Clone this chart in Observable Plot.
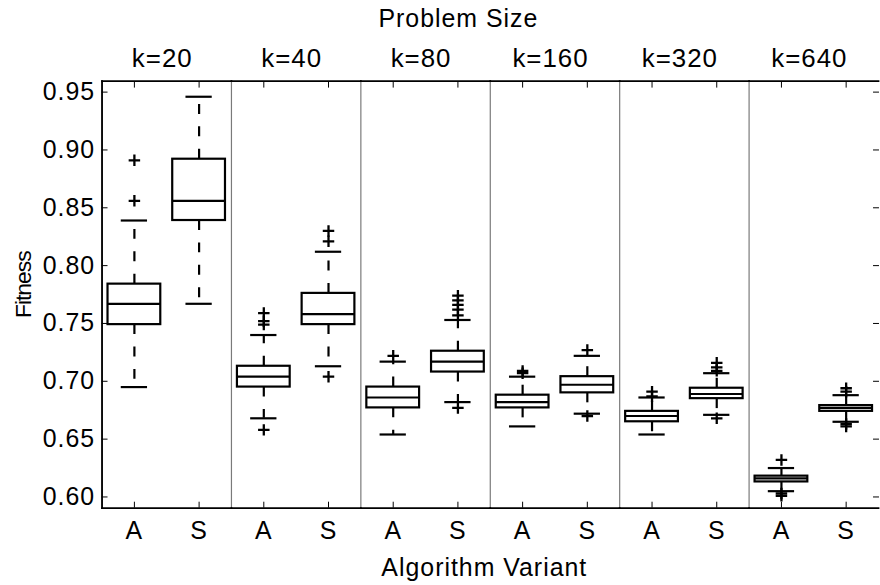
<!DOCTYPE html>
<html><head><meta charset="utf-8">
<script src="https://cdn.jsdelivr.net/npm/d3@7"></script>
<script src="https://cdn.jsdelivr.net/npm/@observablehq/plot@0.6"></script>
<style>
html,body{margin:0;padding:0;background:#fff;overflow:hidden}
#chart{width:880px;height:585px;overflow:hidden}
</style></head><body><div id="chart"></div>
<script>
// Facets (problem size) and variants
const sizes = ["k=20", "k=40", "k=80", "k=160", "k=320", "k=640"];
const variants = ["A", "S"];
const yTicks = [0.60, 0.65, 0.70, 0.75, 0.80, 0.85, 0.90, 0.95];

// Box statistics, order: k20 A, k20 S, k40 A, k40 S, ... k640 S
const whiskerLow  = [0.695, 0.767, 0.668, 0.713, 0.654, 0.682, 0.661, 0.672, 0.654, 0.671, 0.605, 0.665];
const quartile1   = [0.749, 0.839, 0.695, 0.749, 0.677, 0.708, 0.677, 0.690, 0.665, 0.685, 0.613, 0.674];
const medians     = [0.767, 0.856, 0.704, 0.758, 0.686, 0.717, 0.682, 0.697, 0.670, 0.689, 0.616, 0.677];
const quartile3   = [0.784, 0.892, 0.713, 0.776, 0.695, 0.726, 0.688, 0.704, 0.674, 0.694, 0.618, 0.679];
const whiskerHigh = [0.839, 0.946, 0.740, 0.812, 0.717, 0.753, 0.704, 0.722, 0.686, 0.707, 0.625, 0.688];
const outliers = [
  [0.891, 0.856],
  [],
  [0.759, 0.752, 0.749, 0.658],
  [0.830, 0.821, 0.704],
  [0.722],
  [0.774, 0.770, 0.766, 0.762, 0.757, 0.677],
  [0.709, 0.707],
  [0.727, 0.670],
  [0.691, 0.687],
  [0.716, 0.712, 0.709, 0.668],
  [0.632, 0.603, 0.601],
  [0.694, 0.691, 0.663, 0.661]
];

const boxes = [];
sizes.forEach((k, i) => variants.forEach((v, j) => {
  const n = i * 2 + j;
  boxes.push({k, v, lo: whiskerLow[n], q1: quartile1[n], med: medians[n], q3: quartile3[n], hi: whiskerHigh[n]});
}));
const outlierPoints = boxes.flatMap((b, n) => outliers[n].map(y => ({k: b.k, v: b.v, y})));

const LW = 2.2;
const chart = Plot.plot({
  width: 884, height: 585,
  marginLeft: 100, marginRight: 0, marginTop: 81, marginBottom: 75,
  style: {fontFamily: "'Liberation Sans', Arial, Helvetica, sans-serif", fontSize: "25px", letterSpacing: "1px", color: "black", background: "white", overflow: "visible"},
  fx: {domain: sizes, padding: 0},
  x: {domain: variants, padding: 0},
  y: {domain: [0.5903, 0.9595]},
  marks: [
    Plot.frame({anchor: "left", stroke: "#7a7a7a", strokeWidth: 1.2}),
    Plot.frame({anchor: "top", stroke: "black", strokeWidth: 1.8}),
    Plot.frame({anchor: "bottom", stroke: "black", strokeWidth: 1.8}),
    Plot.frame({anchor: "left", facetAnchor: "left", stroke: "black", strokeWidth: 1.8}),
    Plot.axisY({anchor: "left", ticks: yTicks, tickFormat: ".2f", tickSize: -6, tickPadding: 13, label: null}),
    Plot.axisY({anchor: "right", ticks: yTicks, tickSize: -6, fill: "none", label: null}),
    Plot.axisX({anchor: "bottom", tickSize: -6, tickPadding: 19, label: null}),
    Plot.axisX({anchor: "top", tickSize: -6, fill: "none", label: null}),
    Plot.axisFx({anchor: "top", tickSize: 0, tickPadding: 14, dx: -4.5, label: null, fontSize: 26}),
    Plot.ruleX(boxes, {fx: "k", x: "v", y1: "q3", y2: "hi", stroke: "black", strokeWidth: LW, strokeDasharray: "10,12.5"}),
    Plot.ruleX(boxes, {fx: "k", x: "v", y1: "q1", y2: "lo", stroke: "black", strokeWidth: LW, strokeDasharray: "10,12.5"}),
    Plot.tickY(boxes, {fx: "k", x: "v", y: "hi", stroke: "black", strokeWidth: LW, insetLeft: 19.3, insetRight: 19.3}),
    Plot.tickY(boxes, {fx: "k", x: "v", y: "lo", stroke: "black", strokeWidth: LW, insetLeft: 19.3, insetRight: 19.3}),
    Plot.barY(boxes, {fx: "k", x: "v", y1: "q1", y2: "q3", fill: "white", stroke: "black", strokeWidth: LW, insetLeft: 6, insetRight: 6}),
    Plot.tickY(boxes, {fx: "k", x: "v", y: "med", stroke: "black", strokeWidth: LW, insetLeft: 6, insetRight: 6}),
    Plot.dot(outlierPoints, {fx: "k", x: "v", y: "y", symbol: "plus", r: 3.8, fill: "none", stroke: "black", strokeWidth: 2.3}),
    Plot.text(["Problem Size"], {facet: "super", text: d => d, frameAnchor: "top", dx: -32, dy: -54, lineAnchor: "bottom"}),
    Plot.text(["Algorithm Variant"], {facet: "super", text: d => d, frameAnchor: "bottom", dx: -6, dy: 68, lineAnchor: "bottom"}),
    Plot.text(["Fitness"], {facet: "super", text: d => d, frameAnchor: "left", rotate: -90, dx: -71, dy: 23.5, lineAnchor: "bottom", fontSize: 23})
  ]
});
chart.querySelectorAll("text").forEach(t => {
  if (t.textContent === "Fitness") t.style.letterSpacing = "-1px";
});
document.getElementById("chart").appendChild(chart);
</script>
</body></html>
